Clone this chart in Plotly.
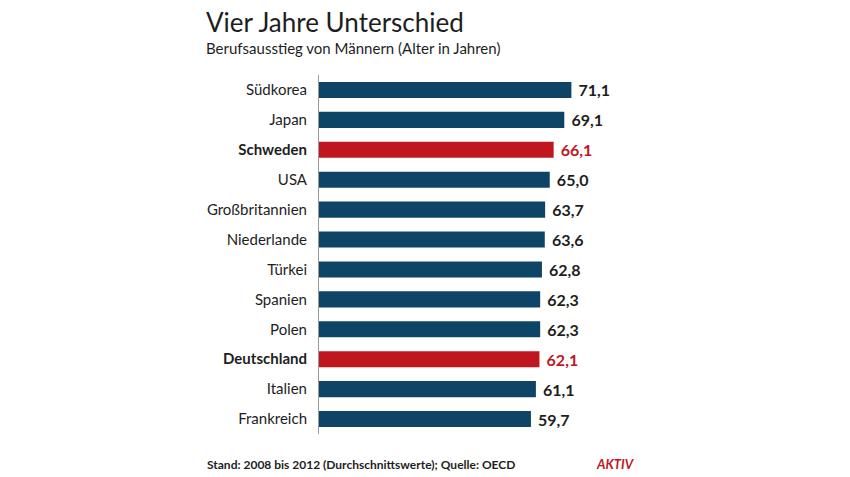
import plotly.graph_objects as go

countries = ["Südkorea", "Japan", "Schweden", "USA", "Großbritannien", "Niederlande",
             "Türkei", "Spanien", "Polen", "Deutschland", "Italien", "Frankreich"]
values = [71.1, 69.1, 66.1, 65.0, 63.7, 63.6, 62.8, 62.3, 62.3, 62.1, 61.1, 59.7]
highlight = ["Schweden", "Deutschland"]

BLUE = "#0e4566"
RED = "#c0161d"
FONT = "Lato"

# plot area in pixels
L, R, T, B = 319, 603, 75, 434
W, H = 850, 477


def px(x):
    return (x - L) / (R - L)


def py(y):
    return (B - y) / (B - T)


colors = [RED if c in highlight else BLUE for c in countries]
text_colors = [RED if c in highlight else "#1e1e1e" for c in countries]
labels = [f"{v:.1f}".replace(".", ",") for v in values]
ticktext = [f"<b>{c}</b>" if c in highlight else c for c in countries]

fig = go.Figure()
fig.add_trace(go.Bar(
    x=values, y=countries, orientation="h",
    marker=dict(color=colors, line=dict(width=0)),
    text=[f" <b>{t}</b>" for t in labels], textposition="outside",
    textfont=dict(family=FONT, size=16, color=text_colors),
    constraintext="none",
    cliponaxis=False, width=0.54,
))

fig.update_layout(
    width=W, height=H,
    margin=dict(l=L, r=W - R, t=T, b=H - B, autoexpand=False),
    paper_bgcolor="white", plot_bgcolor="white",
    showlegend=False,
    font=dict(family=FONT, color="#1e1e1e"),
    xaxis=dict(range=[0, 80], visible=False, fixedrange=True),
    yaxis=dict(autorange="reversed", tickmode="array", tickvals=countries, ticktext=ticktext,
               tickfont=dict(family=FONT, size=15, color="#1e1e1e"),
               showline=True, linecolor="#9a9a9a", linewidth=1, ticks="", ticklabelstandoff=8,
               showgrid=False, fixedrange=True),
    annotations=[
        dict(text="Vier Jahre Unterschied", x=px(204), y=py(22), xref="paper", yref="paper",
             xanchor="left", yanchor="middle", showarrow=False,
             font=dict(family=FONT, size=26, color="#1e1e1e")),
        dict(text="Berufsausstieg von Männern (Alter in Jahren)", x=px(204), y=py(48),
             xref="paper", yref="paper", xanchor="left", yanchor="middle", showarrow=False,
             font=dict(family=FONT, size=15, color="#1e1e1e")),
        dict(text="<b>Stand: 2008 bis 2012 (Durchschnittswerte); Quelle: OECD</b>", x=px(205), y=py(464),
             xref="paper", yref="paper", xanchor="left", yanchor="middle", showarrow=False,
             font=dict(family=FONT, size=12, color="#1e1e1e")),
        dict(text="<b><i>AKTIV</i></b>", x=px(637), y=py(464),
             xref="paper", yref="paper", xanchor="right", yanchor="middle", showarrow=False,
             font=dict(family=FONT, size=13, color=RED)),
    ],
)

fig.write_html("out.html", config={"displayModeBar": False},
               post_script="document.body.style.margin='0px';document.body.style.overflow='hidden';")
